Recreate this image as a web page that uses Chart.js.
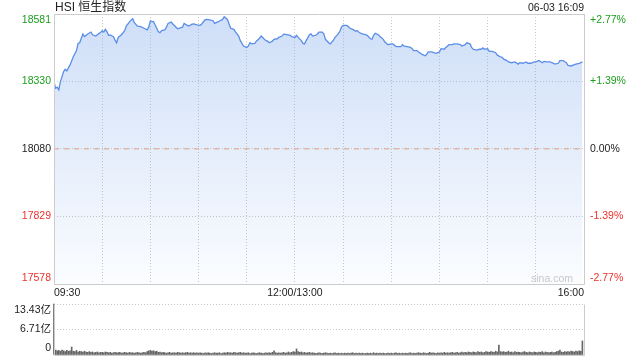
<!DOCTYPE html>
<html>
<head>
<meta charset="utf-8">
<script src="https://cdn.jsdelivr.net/npm/chart.js@4.4.0/dist/chart.umd.min.js"></script>
<style>
  body { margin: 0; background: #fff; width: 640px; height: 360px; overflow: hidden; position: relative; }
  canvas { position: absolute; left: 0; }
  #price { top: 0; }
  #vol { top: 300px; }
</style>
</head>
<body>
<canvas id="price" width="640" height="300"></canvas>
<canvas id="vol" width="640" height="60"></canvas>
<script>
const FONT = "'Liberation Sans', Arial, 'Noto Sans CJK SC', sans-serif";

const titleText = 'HSI 恒生指数';
const stampText = '06-03 16:09';
const prevClose = 18080;

// price axis
const priceTicks = [18581, 18330, 18080, 17829, 17578];
const pctTicks = ['+2.77%', '+1.39%', '0.00%', '-1.39%', '-2.77%'];

// time axis, minutes after 09:30 (lunch break removed)
const gridMinutes = [0, 30, 60, 90, 120, 150, 180, 210, 240, 270, 300, 330];
const timeTicks = [0, 150, 330];
const timeLabels = ['09:30', '12:00/13:00', '16:00'];

const priceMinutes = [0,1,2,3,4,6,7,8,10,12,14,15,16,17,18,19,21,23,24,26,27,28,29,30,31,32,33,34,35,37,
  38,39,40,42,44,45,47,49,50,52,54,56,58,59,60,62,63,65,66,67,69,70,71,73,74,76,77,80,81,83,
  84,86,87,89,91,92,94,95,97,99,100,102,103,105,106,108,109,110,112,113,115,116,118,120,121,122,123,125,126,128,
  129,131,132,133,134,136,137,139,140,142,143,145,147,148,150,151,152,154,155,156,157,159,160,161,163,164,165,167,168,169,
  171,172,174,175,177,178,179,180,182,183,184,186,188,189,190,192,194,195,197,198,199,200,202,203,205,206,208,210,211,213,
  214,216,217,218,220,222,223,224,226,227,229,231,232,233,235,237,238,240,241,243,244,246,248,249,251,253,254,256,257,259,
  260,261,263,265,266,267,268,270,271,273,275,276,278,279,280,282,283,285,287,289,290,292,294,295,297,299,300,302,304,305,
  307,309,310,312,314,315,317,319,320,322,324,325,327,329];

const priceValues = [18330,18305,18309,18299,18330,18367,18376,18370,18392,18422,18445,18472,18474,18491,18507,18497,18507,18514,18504,18499,
  18504,18509,18512,18519,18514,18524,18515,18502,18503,18497,18484,18474,18494,18504,18519,18536,18552,18564,18549,18536,
  18534,18528,18522,18532,18555,18552,18540,18515,18512,18519,18522,18532,18546,18551,18544,18532,18526,18532,18546,18539,
  18536,18543,18544,18541,18539,18544,18559,18561,18559,18556,18546,18552,18555,18561,18571,18561,18544,18528,18524,18515,
  18499,18482,18462,18457,18462,18474,18470,18472,18480,18491,18499,18487,18482,18480,18474,18480,18487,18489,18494,18499,
  18506,18504,18502,18497,18494,18502,18494,18482,18472,18470,18482,18504,18507,18499,18502,18507,18514,18514,18507,18487,
  18474,18470,18484,18494,18507,18517,18532,18539,18539,18536,18529,18524,18517,18519,18512,18507,18504,18502,18489,18487,
  18502,18509,18504,18497,18487,18477,18467,18470,18470,18460,18460,18460,18467,18462,18460,18457,18452,18445,18445,18440,
  18432,18426,18430,18440,18440,18437,18435,18440,18452,18450,18457,18467,18467,18470,18470,18467,18462,18467,18474,18470,
  18457,18450,18447,18450,18450,18455,18450,18452,18442,18442,18437,18428,18422,18420,18413,18408,18403,18400,18403,18395,
  18400,18398,18403,18398,18398,18403,18403,18408,18400,18405,18403,18403,18400,18395,18398,18408,18408,18400,18390,18388,
  18393,18395,18398,18403];

// volume, 亿, one bar per minute
const volTicks = [13.43, 6.71, 0];
const volLabels = ['13.43亿', '6.71亿', '0'];
const volumes = [
  13.43,1.3,1.1,1.2,1.0,1.3,1.1,0.9,1.2,1.0,
  1.1,2.1,1.0,0.9,1.2,0.8,1.0,0.9,0.8,1.0,
  0.8,0.7,0.9,0.7,0.8,0.6,0.7,0.8,0.6,0.7,
  0.7,0.6,0.8,0.7,0.6,0.7,0.5,0.6,0.7,0.6,
  0.6,0.7,0.5,0.6,0.7,0.6,0.5,0.7,0.6,0.6,
  0.5,0.6,0.7,0.6,0.5,0.6,0.7,0.6,0.9,1.1,
  1.2,1.0,1.1,0.9,1.0,0.7,0.8,0.6,0.7,0.6,
  0.5,0.6,0.7,0.5,0.6,0.6,0.5,0.7,0.6,0.5,
  0.6,0.5,0.6,0.7,0.5,0.6,0.5,0.6,0.5,0.6,
  0.5,0.6,0.5,0.4,0.6,0.5,0.6,0.5,0.4,0.5,
  0.6,0.5,0.5,0.6,0.4,0.5,0.6,0.5,0.7,0.6,
  0.6,0.5,0.7,0.6,0.5,0.6,0.7,0.5,0.6,0.5,
  0.5,0.6,0.4,0.5,0.6,0.5,0.4,0.5,0.6,0.5,
  0.4,0.5,0.6,0.5,0.6,0.5,0.7,1.1,0.6,0.5,
  0.6,0.5,0.6,0.7,0.5,0.6,0.8,0.6,0.7,0.9,
  0.8,1.6,0.9,0.7,0.8,0.6,0.7,0.5,0.6,0.7,
  0.5,0.6,0.5,0.4,0.5,0.6,0.5,0.4,0.5,0.6,
  0.5,0.4,0.5,0.4,0.5,0.6,0.4,0.5,0.4,0.5,
  0.4,0.5,0.4,0.5,0.4,0.5,0.6,0.4,0.5,0.4,
  0.5,0.4,0.5,0.4,0.4,0.5,0.4,0.5,0.4,0.6,
  0.4,0.5,0.4,0.5,0.4,0.5,0.4,0.4,0.5,0.4,
  0.5,0.4,0.5,0.6,0.4,0.5,0.4,0.5,0.4,0.5,
  0.4,0.5,0.6,0.4,0.5,0.4,0.5,0.6,0.5,0.4,
  0.6,0.5,0.4,0.5,0.7,0.5,0.6,0.5,0.4,0.6,
  0.5,0.6,0.5,0.7,0.5,0.6,0.5,0.6,0.7,0.5,
  0.6,0.7,0.5,0.6,0.8,0.6,0.7,0.6,0.8,0.7,
  0.6,0.8,0.7,0.6,0.9,0.7,0.8,0.6,0.7,0.9,
  0.8,0.7,0.9,0.8,0.7,1.0,0.8,2.6,0.9,0.8,
  0.9,0.7,0.8,1.0,0.7,0.8,0.6,0.9,0.7,0.8,
  0.7,0.6,0.8,0.9,0.7,0.6,0.8,0.7,0.6,0.8,
  0.7,0.6,0.8,0.7,0.9,0.6,0.8,0.7,0.6,0.7,
  0.8,0.6,0.7,0.9,1.0,1.3,0.8,0.7,0.9,0.8,
  0.9,0.8,1.0,0.9,0.8,1.0,0.9,1.1,1.0,3.7
];

const UP = '#1c9e1c', DOWN = '#f0302a', FLAT = '#222';
const tone = v => v > prevClose ? UP : (v < prevClose ? DOWN : FLAT);
const GRID = '#c8c8c8';

// axis labels drawn beside the plot, pulled inside at the top/bottom edge
const sideLabels = {
  id: 'sideLabels',
  afterDraw(chart, args, o) {
    const { ctx, chartArea: a } = chart;
    const ys = chart.scales.y;
    const place = v => Math.min(Math.max(ys.getPixelForValue(v), a.top + o.inset), a.bottom - o.inset);
    ctx.save();
    ctx.font = '10.5px ' + FONT;
    ctx.textBaseline = 'middle';
    (o.left || []).forEach(t => {
      ctx.fillStyle = t.color; ctx.textAlign = 'right';
      ctx.fillText(t.text, a.left - 3, place(t.value));
    });
    (o.right || []).forEach(t => {
      ctx.fillStyle = t.color; ctx.textAlign = 'left';
      ctx.fillText(t.text, a.right + 6, place(t.value));
    });
    ctx.restore();
  }
};

const frame = {
  id: 'frame',
  afterDraw(chart, args, o) {
    const { ctx, chartArea: a } = chart;
    const l = Math.round(a.left) + 0.5, r = Math.round(a.right) + 0.5;
    const t = Math.round(a.top) + 0.5, b = Math.round(a.bottom) + 0.5;
    ctx.save();
    ctx.strokeStyle = o.color;
    ctx.lineWidth = 1;
    ctx.beginPath();
    if (o.sides.includes('left')) { ctx.moveTo(l, t); ctx.lineTo(l, b); }
    if (o.sides.includes('right')) { ctx.moveTo(r, t); ctx.lineTo(r, b); }
    if (o.sides.includes('top')) { ctx.moveTo(l, t); ctx.lineTo(r, t); }
    if (o.sides.includes('bottom')) { ctx.moveTo(l, b); ctx.lineTo(r, b); }
    ctx.stroke();
    ctx.restore();
  }
};

const header = {
  id: 'header',
  afterDraw(chart) {
    const { ctx, chartArea: a } = chart;
    ctx.save();
    ctx.textBaseline = 'middle';
    ctx.fillStyle = '#222';
    ctx.font = '12px ' + FONT;
    ctx.textAlign = 'left';
    ctx.fillText(titleText, a.left + 1, 8);
    ctx.font = '10.5px ' + FONT;
    ctx.textAlign = 'right';
    ctx.fillText(stampText, a.right, 8);
    ctx.fillStyle = '#c8c8c8';
    ctx.fillText('sina.com', a.right - 11, a.bottom - 5);
    ctx.restore();
  }
};

const areaFill = c => {
  const a = c.chart.chartArea;
  if (!a) return 'rgba(120,165,235,0.2)';
  const g = c.chart.ctx.createLinearGradient(0, a.top, 0, a.bottom);
  g.addColorStop(0, 'rgba(120,165,235,0.36)');
  g.addColorStop(1, 'rgba(120,165,235,0.03)');
  return g;
};

new Chart(document.getElementById('price'), {
  type: 'line',
  data: {
    datasets: [
      {
        data: [{ x: 0, y: prevClose }, { x: 330, y: prevClose }],
        borderColor: '#e6a07e', borderWidth: 1, borderDash: [5, 5],
        pointRadius: 0, fill: false
      },
      {
        data: priceMinutes.map((m, i) => ({ x: m, y: priceValues[i] })),
        borderColor: '#5b8ee8', borderWidth: 1.3, pointRadius: 0, tension: 0,
        fill: 'start', backgroundColor: areaFill
      }
    ]
  },
  options: {
    responsive: false,
    animation: false,
    devicePixelRatio: 1,
    layout: { padding: { top: 14, right: 56, bottom: 0, left: 0 } },
    plugins: {
      legend: { display: false },
      tooltip: { enabled: false },
      sideLabels: {
        inset: 6,
        left: priceTicks.map(v => ({ value: v, text: String(v), color: tone(v) })),
        right: priceTicks.map((v, i) => ({ value: v, text: pctTicks[i], color: tone(v) }))
      },
      frame: { color: '#cccccc', sides: ['left', 'right', 'top', 'bottom'] }
    },
    scales: {
      x: {
        type: 'linear', min: 0, max: 330,
        afterBuildTicks: s => { s.ticks = gridMinutes.map(v => ({ value: v })); },
        afterFit: s => { s.height = 16; },
        ticks: {
          autoSkip: false, maxRotation: 0, align: 'inner', padding: 3, color: '#222',
          font: { family: FONT, size: 10.5 },
          callback: v => { const i = timeTicks.indexOf(v); return i < 0 ? '' : timeLabels[i]; }
        },
        grid: { color: GRID, drawTicks: false },
        border: { display: false, dash: [1, 2] }
      },
      y: {
        min: 17578, max: 18581,
        afterBuildTicks: s => { s.ticks = priceTicks.map(v => ({ value: v })); },
        afterFit: s => { s.width = 54; },
        ticks: { display: false },
        grid: { color: GRID, drawTicks: false },
        border: { display: false, dash: [1, 2] }
      }
    }
  },
  plugins: [sideLabels, frame, header]
});

new Chart(document.getElementById('vol'), {
  type: 'bar',
  data: {
    datasets: [{
      data: volumes.map((v, i) => ({ x: i, y: v })),
      backgroundColor: '#666', borderWidth: 0, barThickness: 1, clip: false
    }]
  },
  options: {
    responsive: false,
    animation: false,
    devicePixelRatio: 1,
    layout: { padding: { top: 4, right: 56, bottom: 5, left: 0 } },
    plugins: {
      legend: { display: false },
      tooltip: { enabled: false },
      sideLabels: {
        inset: 6.5,
        left: volTicks.map((v, i) => ({ value: v, text: volLabels[i], color: '#222' }))
      },
      frame: { color: '#cccccc', sides: ['left', 'right', 'bottom'] }
    },
    scales: {
      x: {
        type: 'linear', min: 0, max: 330, offset: false,
        afterFit: s => { s.height = 0; },
        ticks: { display: false },
        grid: { display: false },
        border: { display: false }
      },
      y: {
        min: 0, max: 13.43,
        afterBuildTicks: s => { s.ticks = volTicks.map(v => ({ value: v })); },
        afterFit: s => { s.width = 54; },
        ticks: { display: false },
        grid: { color: c => (c.tick && c.tick.value === 0) ? 'rgba(0,0,0,0)' : GRID, drawTicks: false },
        border: { display: false, dash: [1, 2] }
      }
    }
  },
  plugins: [sideLabels, frame]
});
</script>
</body>
</html>
